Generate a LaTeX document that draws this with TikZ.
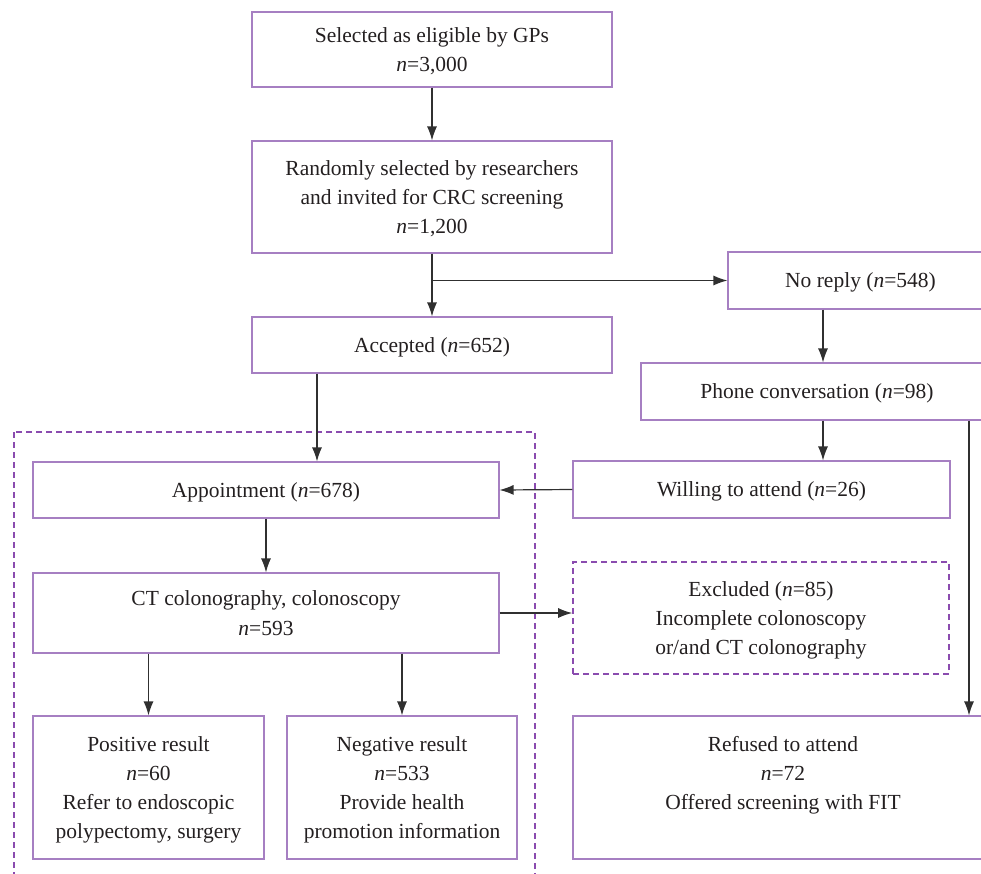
\documentclass[tikz,border=0pt]{standalone}
\usepackage{fontspec}
\setmainfont{Liberation Serif}
\usetikzlibrary{arrows.meta}
\definecolor{boxline}{HTML}{A67FC2}
\definecolor{dashline}{HTML}{8A4BAF}
\definecolor{arrowline}{HTML}{303030}
\definecolor{textcol}{HTML}{231F20}
\tikzset{
  flowbox/.style={draw=boxline, line width=1.1pt, align=center, inner sep=0pt,
    text=textcol, font=\fontsize{21.5}{29.3}\selectfont, text depth=-3pt},
  exclbox/.style={flowbox, draw=dashline, line width=1.6pt, dash pattern=on 6pt off 4pt},
  arr/.style={draw=arrowline, line width=1.2pt, -{Latex[length=14pt,width=10pt]}}
}
\begin{document}
\begin{tikzpicture}[x=1pt,y=-1pt]
\useasboundingbox (0,0) rectangle (981,873);
\clip (0,0) rectangle (981,873);
%
\node[flowbox, minimum width=360pt, minimum height=75pt] (sel) at (432,49.5)
  {Selected as eligible by GPs\\\textit{n}=3,000};
\node[flowbox, minimum width=360pt, minimum height=112pt] (rand) at (432,197)
  {Randomly selected by researchers\\and invited for CRC screening\\\textit{n}=1,200};
\node[flowbox, minimum width=360pt, minimum height=56pt] (acc) at (432,345)
  {Accepted (\textit{n}=652)};
%
\node[flowbox, minimum width=265pt, minimum height=57pt] (noreply) at (860.5,280.5)
  {No reply (\textit{n}=548)};
\node[flowbox, minimum width=352pt, minimum height=57pt] (phone) at (817,391.5)
  {Phone conversation (\textit{n}=98)};
\node[flowbox, minimum width=377pt, minimum height=57pt] (willing) at (761.5,489.5)
  {Willing to attend (\textit{n}=26)};
%
\draw[dashline, line width=1.6pt, dash pattern=on 6pt off 4pt] (14,432) rectangle (535,900);
%
\node[flowbox, minimum width=466pt, minimum height=56pt] (appt) at (266,490)
  {Appointment (\textit{n}=678)};
\node[flowbox, minimum width=466pt, minimum height=80pt] (ct) at (266,613)
  {CT colonography, colonoscopy\\\textit{n}=593};
\node[exclbox, minimum width=376pt, minimum height=112pt] (excl) at (761,618)
  {Excluded (\textit{n}=85)\\Incomplete colonoscopy\\or/and CT colonography};
%
\node[flowbox, minimum width=231pt, minimum height=143pt] (pos) at (148.5,787.5)
  {Positive result\\\textit{n}=60\\Refer to endoscopic\\polypectomy, surgery};
\node[flowbox, minimum width=230pt, minimum height=143pt] (neg) at (402,787.5)
  {Negative result\\\textit{n}=533\\Provide health\\promotion information};
\node[flowbox, minimum width=420pt, minimum height=143pt] (refused) at (783,787.5)
  {Refused to attend\\\textit{n}=72\\Offered screening with FIT\\\mbox{}};
%
\draw[arr] (sel) -- (rand);
\draw[arr] (rand) -- (acc);
\draw[arr] (rand.south |- noreply.west) -- (noreply.west);
\draw[arr] ([xshift=-37.5pt]noreply.south) -- ([xshift=-37.5pt]noreply.south |- phone.north);
\draw[arr] ([xshift=6pt]phone.south) -- ([xshift=6pt]phone.south |- willing.north);
\draw[arr] ([xshift=152pt]phone.south) -- ([xshift=152pt]phone.south |- refused.north);
\draw[arr] (willing.west) -- (appt.east);
\draw[arr] ([xshift=-115pt]acc.south) -- ([xshift=-115pt]acc.south |- appt.north);
\draw[arr] (appt) -- (ct);
\draw[arr] (ct.east) -- (ct.east -| excl.west);
\draw[arr] (pos.north |- ct.south) -- (pos.north);
\draw[arr] (neg.north |- ct.south) -- (neg.north);
%
\end{tikzpicture}
\end{document}
